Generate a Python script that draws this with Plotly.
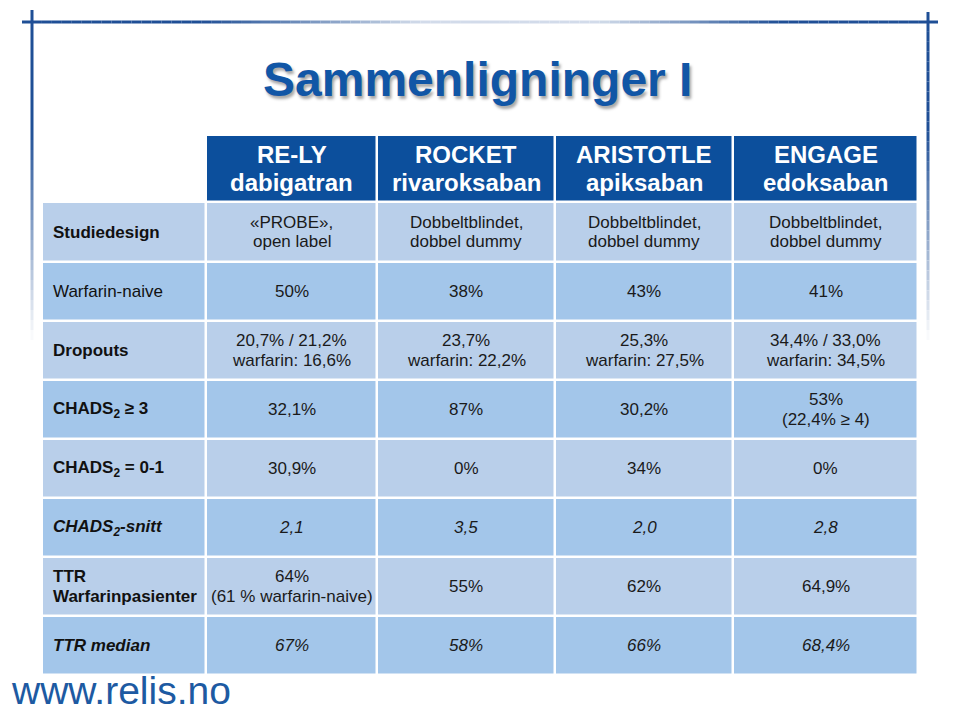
import plotly.graph_objects as go
import numpy as np

# ---------------- data ----------------
col_headers = ["RE-LY<br>dabigatran", "ROCKET<br>rivaroksaban",
               "ARISTOTLE<br>apiksaban", "ENGAGE<br>edoksaban"]
row_labels = ["Studiedesign", "Warfarin-naive", "Dropouts",
              "CHADS<sub>2</sub> ≥ 3", "CHADS<sub>2</sub> = 0-1",
              "CHADS<sub>2</sub>-snitt", "TTR<br>Warfarinpasienter", "TTR median"]
label_bold = [True, False, True, True, True, True, True, True]
row_italic = [False, False, False, False, False, True, False, True]

rely = ["«PROBE»,<br>open label", "50%", "20,7% / 21,2%<br>warfarin: 16,6%",
        "32,1%", "30,9%", "2,1", "64%<br>(61 % warfarin-naive)", "67%"]
rocket = ["Dobbeltblindet,<br>dobbel dummy", "38%", "23,7%<br>warfarin: 22,2%",
          "87%", "0%", "3,5", "55%", "58%"]
aristotle = ["Dobbeltblindet,<br>dobbel dummy", "43%", "25,3%<br>warfarin: 27,5%",
             "30,2%", "34%", "2,0", "62%", "66%"]
engage = ["Dobbeltblindet,<br>dobbel dummy", "41%", "34,4% / 33,0%<br>warfarin: 34,5%",
          "53%<br>(22,4% ≥ 4)", "0%", "2,8", "64,9%", "68,4%"]
columns = [rely, rocket, aristotle, engage]

title_text = "Sammenligninger I"
footer_text = "www.relis.no"

# ---------------- layout constants (pixels) ----------------
W, H = 960, 706
OFF = 8  # page body margin offset
col_edges = [42, 206, 377, 555, 733, 918]
row_edges = [135, 202, 262, 321, 380, 439, 498, 557, 616, 675]
LIGHT, DARK, HEAD = "#b9cfea", "#a3c6ea", "#0c4f9c"
FONT = "Liberation Sans, Arial, sans-serif"
DATA_SIZE, HEAD_SIZE = 17, 24
DATA_LS, HEAD_LS = 19.5, 28

n_rows = len(row_labels)
# z: 0 light, 1 dark, 2 header; NaN empty
z = []
z.append([np.nan] + [2] * len(columns))
for i in range(n_rows):
    v = 0 if i % 2 == 0 else 1
    z.append([v] * (len(columns) + 1))

fig = go.Figure()
fig.add_trace(go.Heatmap(
    x=col_edges, y=row_edges, z=z, zmin=0, zmax=2,
    colorscale=[[0, LIGHT], [0.25, LIGHT], [0.25, DARK], [0.75, DARK], [0.75, HEAD], [1, HEAD]],
    showscale=False, xgap=2.5, ygap=2.5, hoverinfo="skip"))

annotations = []


def add_lines(text, x, yc, size, color, ls, xanchor="center", bold=False, italic=False):
    lines = text.split("<br>")
    n = len(lines)
    for k, ln in enumerate(lines):
        t = ln
        if bold:
            t = "<b>" + t + "</b>"
        if italic:
            t = "<i>" + t + "</i>"
        y = yc + (k - (n - 1) / 2) * ls
        annotations.append(dict(x=x, y=y, xref="x", yref="y", text=t, showarrow=False,
                                xanchor=xanchor, yanchor="middle",
                                font=dict(family=FONT, size=size, color=color)))


# headers
for j, h in enumerate(col_headers):
    xc = (col_edges[j + 1] + col_edges[j + 2]) / 2
    yc = (row_edges[0] + row_edges[1]) / 2
    add_lines(h, xc, yc, HEAD_SIZE, "white", HEAD_LS, bold=True)

# rows
for i in range(n_rows):
    yc = (row_edges[i + 1] + row_edges[i + 2]) / 2
    add_lines(row_labels[i], col_edges[0] + 9, yc, DATA_SIZE, "#111111", DATA_LS,
              xanchor="left", bold=label_bold[i], italic=row_italic[i])
    for j, col in enumerate(columns):
        xc = (col_edges[j + 1] + col_edges[j + 2]) / 2
        add_lines(col[i], xc, yc, DATA_SIZE, "#1a1a1a", DATA_LS, italic=row_italic[i])

# title
annotations.append(dict(x=477, y=79, xref="x", yref="y", text="<b>" + title_text + "</b>",
                        showarrow=False, xanchor="center", yanchor="middle",
                        font=dict(family=FONT, size=48, color="#1156a6",
                                  shadow="2px 3px 3px rgba(0,0,0,0.35)")))
# footer
annotations.append(dict(x=OFF + 0.5, y=690, xref="x", yref="y", text=footer_text,
                        showarrow=False, xanchor="left", yanchor="middle",
                        font=dict(family=FONT, size=39, color="#1d5aa2")))

# decorative frame lines with fades
shapes = []
dark = np.array([31, 79, 150])


def blend(t):
    c = 255 * (1 - t) + dark * t
    return "rgb(%d,%d,%d)" % tuple(c)


def h_t(x):
    if x < 200:
        return 1.0
    if x < 420:
        return 1.0 - 0.8 * (x - 200) / 220
    if x < 600:
        return 0.2
    if x < 780:
        return 0.2 + 0.8 * (x - 600) / 180
    return 1.0


xs = np.linspace(22, 938, 93)
for a, b in zip(xs[:-1], xs[1:]):
    shapes.append(dict(type="line", xref="x", yref="y", x0=a, x1=b, y0=22, y1=22,
                       line=dict(color=blend(h_t((a + b) / 2)), width=3)))


def v_t(y):
    if y < 130:
        return 1.0
    return max(0.0, 1.0 - (y - 130) / 210)


for xv, ytop in [(32, 10), (928, 12)]:
    ys = np.linspace(ytop, 340, 34)
    for a, b in zip(ys[:-1], ys[1:]):
        shapes.append(dict(type="line", xref="x", yref="y", x0=xv, x1=xv, y0=a, y1=b,
                           line=dict(color=blend(v_t((a + b) / 2)), width=3)))

fig.update_layout(
    width=W, height=H, margin=dict(l=0, r=0, t=0, b=0),
    paper_bgcolor="white", plot_bgcolor="white",
    xaxis=dict(range=[OFF, W + OFF], visible=False, fixedrange=True),
    yaxis=dict(range=[H + OFF, OFF], visible=False, fixedrange=True),
    annotations=annotations, shapes=shapes, showlegend=False)

fig.write_html("out.html")
